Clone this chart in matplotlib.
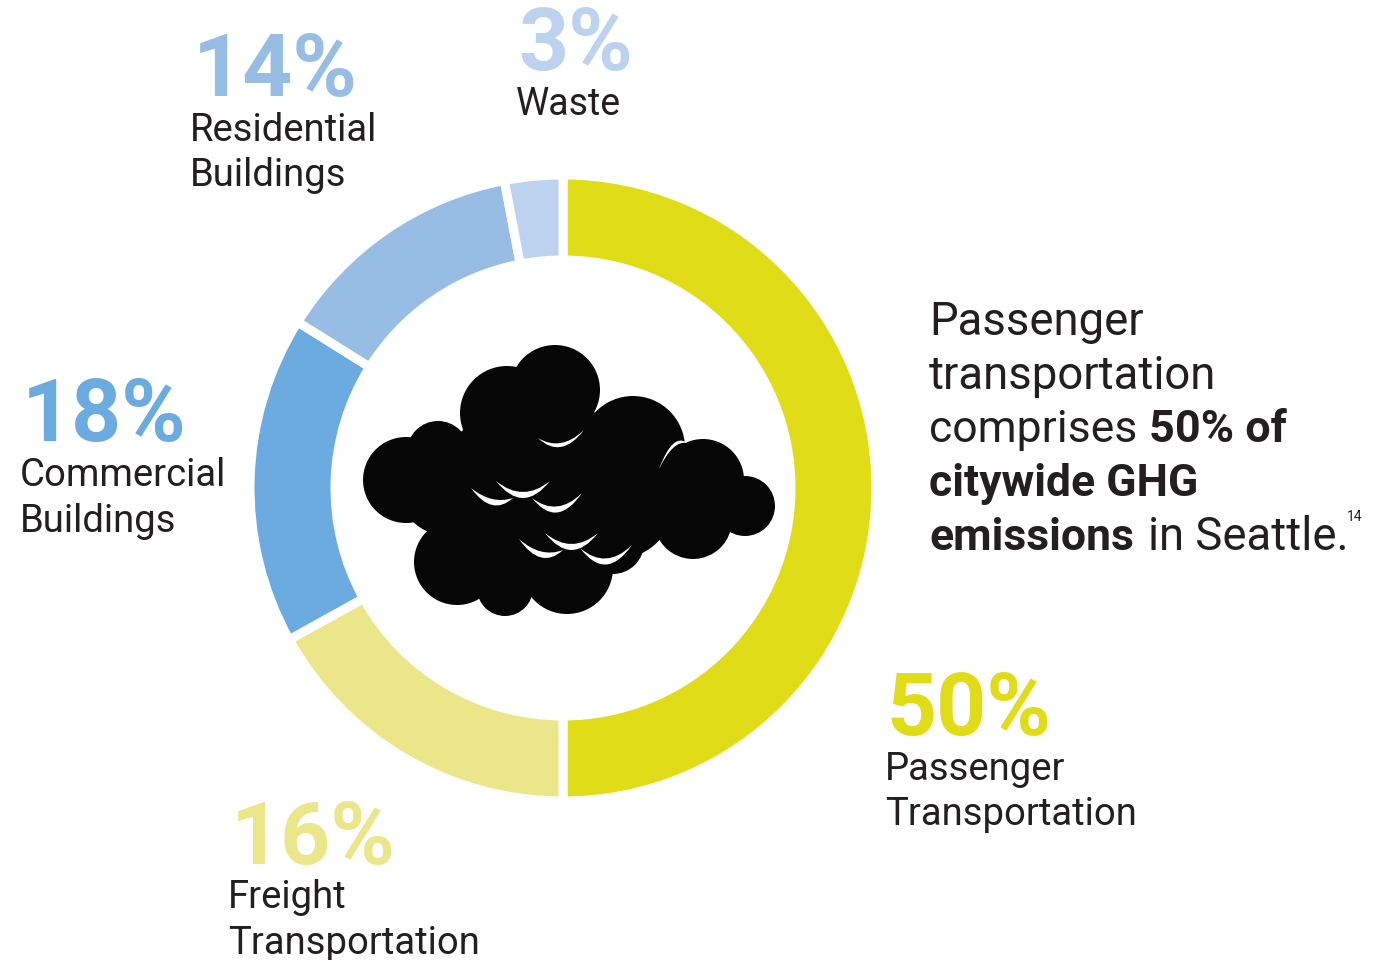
import matplotlib
matplotlib.use('agg')
import matplotlib.pyplot as plt
from matplotlib.patches import Circle, PathPatch
from matplotlib.path import Path

plt.rcParams['font.family'] = ['Roboto', 'DejaVu Sans']

W, H = 1385, 960
INK = '#231f20'

sectors = ['Passenger Transportation', 'Freight Transportation', 'Commercial Buildings', 'Residential Buildings', 'Waste']
# printed labels add to 101, the ring itself is drawn with these shares
printed = [50, 16, 18, 14, 3]
shares = [50, 16.95, 16.95, 13.1, 3]
colors = ['#e1dc18', '#ebe68a', '#6cabdf', '#97bde4', '#bcd2ee']

# cloud drawn in reference pixels: x, y, r
puffs = [(555, 390, 45), (507, 413, 47), (406, 480, 43), (438, 452, 31), (633, 448, 52),
         (703, 480, 41), (745, 506, 30), (693, 520, 39), (457, 562, 43), (505, 588, 28),
         (567, 568, 46), (613, 543, 31),
         # core, hides the gaps between the puffs
         (517, 485, 77), (617, 502, 57), (480, 525, 45), (515, 550, 45), (655, 490, 50),
         (445, 490, 45), (570, 450, 45), (672, 478, 38)]
# x0, y0, x1, y1, sag outer, sag inner
crescents = [(538, 438, 584, 430, 13, 9), (687, 443, 659, 469, -12, -8),
             (471, 488, 513, 498, 12, 6), (496, 481, 550, 481, 17, 11),
             (532, 498, 582, 493, 17, 11), (519, 539, 563, 550, 13, 7),
             (545, 533, 598, 533, 17, 11), (580, 548, 632, 545, 18, 12)]


def py(y):
    return H - y


def crescent(ax, x0, y0, x1, y1, s0, s1):
    mx, my = (x0 + x1) / 2, (y0 + y1) / 2
    verts = [(x0, py(y0)), (mx, py(my + 2 * s0)), (x1, py(y1)), (mx, py(my + 2 * s1)), (x0, py(y0))]
    codes = [Path.MOVETO, Path.CURVE3, Path.CURVE3, Path.CURVE3, Path.CURVE3]
    ax.add_patch(PathPatch(Path(verts, codes), fc='white', ec='none', zorder=4))


def label(ax, x, y, s, size, color=INK, weight='normal'):
    ax.text(x, py(y), s, fontsize=size, color=color, fontweight=weight, ha='left', va='baseline')


fig = plt.figure(figsize=(W / 100, H / 100), dpi=100)
ax = fig.add_axes([0, 0, 1, 1])

ax.pie(shares, colors=colors, startangle=90, counterclock=False, center=(563, py(488)), radius=313,
       wedgeprops={'width': 85, 'edgecolor': 'white', 'linewidth': 6.5})
ax.set_xlim(0, W)
ax.set_ylim(0, H)
ax.set_aspect('equal')
ax.axis('off')

for x, y, r in puffs:
    ax.add_patch(Circle((x, py(y)), r, fc='#060606', ec='none', zorder=3))
for c in crescents:
    crescent(ax, *c)

# big percentages
label(ax, 193, 96, f'{printed[3]}%', 63, colors[3], 'bold')
label(ax, 518, 70, f'{printed[4]}%', 63, colors[4], 'bold')
label(ax, 22, 441, f'{printed[2]}%', 63, colors[2], 'bold')
label(ax, 231, 864, f'{printed[1]}%', 63, colors[1], 'bold')
label(ax, 886, 735, f'{printed[0]}%', 63, colors[0], 'bold')

# category names
label(ax, 190, 141, 'Residential', 27.5)
label(ax, 190, 186, 'Buildings', 27.5)
label(ax, 516, 115, 'Waste', 27)
label(ax, 20, 486, 'Commercial', 27.5)
label(ax, 20, 532, 'Buildings', 27.5)
label(ax, 228, 908, 'Freight', 27.5)
label(ax, 228, 954, 'Transportation', 27.5)
label(ax, 885, 780, 'Passenger', 27.5)
label(ax, 885, 825, 'Transportation', 27.5)

# callout
label(ax, 929, 335, 'Passenger', 32.8)
label(ax, 929, 389, 'transportation', 32.8)
label(ax, 929, 442, 'comprises', 32)
label(ax, 1149, 442, '50% of', 32.4, weight='bold')
label(ax, 929, 496, 'citywide GHG', 32, weight='bold')
label(ax, 929, 550, 'emissions', 32, weight='bold')
label(ax, 1148, 550, 'in Seattle.', 32.8)
label(ax, 1347, 521, '14', 10)

fig.savefig('out.png', dpi=100, facecolor='white')
